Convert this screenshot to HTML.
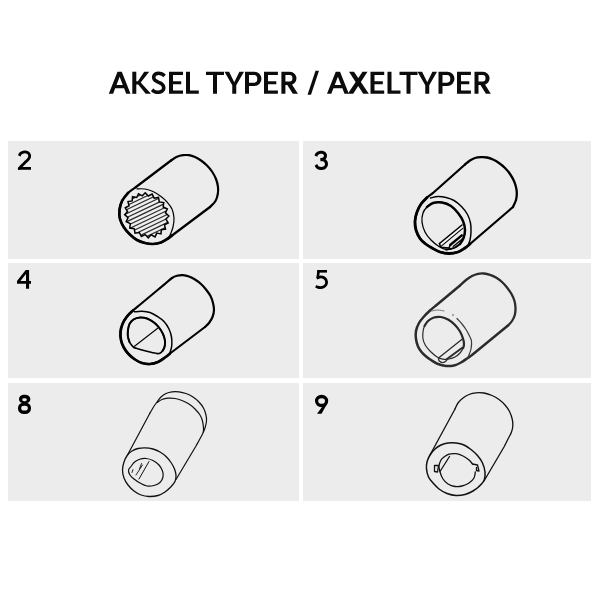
<!DOCTYPE html>
<html><head><meta charset="utf-8">
<style>
html,body{margin:0;padding:0;background:#fff;}
body{width:600px;height:600px;position:relative;overflow:hidden;font-family:"Liberation Sans",sans-serif;}
.c{position:absolute;background:#ececec;}
svg{position:absolute;left:0;top:0;}
</style></head><body>
<div class="c" style="left:8px;top:141px;width:291px;height:117.6px"></div>
<div class="c" style="left:303px;top:141px;width:288px;height:117.6px"></div>
<div class="c" style="left:8px;top:263px;width:291px;height:114.5px"></div>
<div class="c" style="left:303px;top:263px;width:288px;height:114.5px"></div>
<div class="c" style="left:8px;top:382.5px;width:291px;height:118.4px"></div>
<div class="c" style="left:303px;top:382.5px;width:288px;height:118.4px"></div>
<svg width="600" height="600" viewBox="0 0 600 600">
<g fill="#0c0c0c" fill-rule="evenodd"><path d="M108.8 93.8L117.5 71.7L121.8 71.7L130.5 93.8L126.2 93.8L124.1 88.2L115.2 88.2L113.1 93.8ZM116.5 85L122.8 85L119.65 76.8Z"/><path d="M132.3 93.8L136.3 93.8L136.3 71.7L132.3 71.7Z"/><path d="M135.8 84.6L135.8 81.2L137.9 81.2L144.2 71.7L149.2 71.7L140.7 82.5L151 93.8L145.7 93.8L138.2 84.6Z"/><path d="M169 93.8L183 93.8L183 90.5L173 90.5L173 84.25L181.2 84.25L181.2 81.2L173 81.2L173 75L183 75L183 71.7L169 71.7Z"/><path d="M186 93.8L198.8 93.8L198.8 90.5L190 90.5L190 71.7L186 71.7Z"/><path d="M206 71.7L224 71.7L224 75L217 75L217 93.8L213 93.8L213 75L206 75Z"/><path d="M224.5 71.7L229.1 71.7L234.25 82.2L239.4 71.7L244 71.7L236.25 85.2L236.25 93.8L232.25 93.8L232.25 85.2Z"/><path d="M245 71.7H254.35A7.15 7.15 0 0 1 254.35 86H249V93.8H245ZM249 75H254.05A3.25 3.85 0 0 1 254.05 82.7H249Z"/><path d="M264 93.8L277.9 93.8L277.9 90.5L268 90.5L268 84.25L276.3 84.25L276.3 81.2L268 81.2L268 75L277.9 75L277.9 71.7L264 71.7Z"/><path d="M281.4 71.7H289.9A6.6 6.6 0 0 1 289.9 84.9H285.4V93.8H281.4ZM285.4 75H289.6A2.8 3.3 0 0 1 289.6 81.6H285.4Z"/><path d="M287 84.6L292.8 93.8L298 93.8L291.6 84L289.9 82.9Z"/><path d="M315.5 70.8L319 70.8L311 94.8L307.5 94.8Z"/><path d="M327 93.8L335.74 71.7L340.06 71.7L348.8 93.8L344.48 93.8L342.37 88.2L333.43 88.2L331.32 93.8ZM334.74 85L341.06 85L337.9 76.8Z"/><path d="M349 71.7L354 71.7L368.8 93.8L363.2 93.8Z"/><path d="M362.5 71.7L367.5 71.7L353.2 93.8L347.8 93.8Z"/><path d="M370.5 93.8L384.2 93.8L384.2 90.5L374.5 90.5L374.5 84.25L382.8 84.25L382.8 81.2L374.5 81.2L374.5 75L384.2 75L384.2 71.7L370.5 71.7Z"/><path d="M387.5 93.8L400.5 93.8L400.5 90.5L391.5 90.5L391.5 71.7L387.5 71.7Z"/><path d="M399.5 71.7L417.5 71.7L417.5 75L410.5 75L410.5 93.8L406.5 93.8L406.5 75L399.5 75Z"/><path d="M417.5 71.7L422.1 71.7L427.25 82.2L432.4 71.7L437 71.7L429.25 85.2L429.25 93.8L425.25 93.8L425.25 85.2Z"/><path d="M438.5 71.7H447.35A7.15 7.15 0 0 1 447.35 86H442.5V93.8H438.5ZM442.5 75H447.05A3.25 3.85 0 0 1 447.05 82.7H442.5Z"/><path d="M457 93.8L470.9 93.8L470.9 90.5L461 90.5L461 84.25L469.3 84.25L469.3 81.2L461 81.2L461 75L470.9 75L470.9 71.7L457 71.7Z"/><path d="M474.5 71.7H483A6.6 6.6 0 0 1 483 84.9H478.5V93.8H474.5ZM478.5 75H482.7A2.8 3.3 0 0 1 482.7 81.6H478.5Z"/><path d="M480.1 84.6L485.9 93.8L490.8 93.8L484.7 84L483 82.9Z"/></g>
<path fill="none" stroke="#0c0c0c" stroke-width="3.6" stroke-linecap="butt" d="M164.5 76C164.28 75.78 163.75 75.08 163.2 74.7C162.65 74.32 161.98 73.93 161.2 73.7C160.42 73.47 159.4 73.27 158.5 73.3C157.6 73.33 156.55 73.48 155.8 73.9C155.05 74.32 154.32 75.05 154 75.8C153.68 76.55 153.65 77.58 153.9 78.4C154.15 79.22 154.65 80.02 155.5 80.7C156.35 81.38 157.92 81.9 159 82.5C160.08 83.1 161.23 83.58 162 84.3C162.77 85.02 163.37 85.95 163.6 86.8C163.83 87.65 163.75 88.63 163.4 89.4C163.05 90.17 162.32 90.92 161.5 91.4C160.68 91.88 159.48 92.22 158.5 92.3C157.52 92.38 156.43 92.13 155.6 91.9C154.77 91.67 154.07 91.27 153.5 90.9C152.93 90.53 152.42 89.9 152.2 89.7"/>
<clipPath id="c2"><rect x="17.75" y="150" width="13.4" height="19.75"/></clipPath>
<path clip-path="url(#c2)" fill="none" stroke="#000" stroke-width="2.8" stroke-linecap="butt" d="M19.25 155.9C19.48 155.48 19.91 154.03 20.6 153.4C21.29 152.78 22.43 152.36 23.4 152.15C24.37 151.94 25.48 151.91 26.4 152.15C27.32 152.39 28.36 152.94 28.9 153.6C29.44 154.26 29.68 155.23 29.65 156.1C29.62 156.97 29.31 157.88 28.7 158.8C28.09 159.72 27.03 160.57 26 161.6C24.97 162.63 23.6 163.87 22.5 165C21.4 166.13 19.92 167.83 19.4 168.4L18.3 169.6"/>
<path fill="#000" d="M18.6 167H31V169.75H17.9Z"/>
<path fill="none" stroke="#000" stroke-width="3.1" stroke-linecap="butt" d="M315.9 156.2C316.03 155.88 316.18 154.9 316.7 154.3C317.22 153.7 318.12 152.93 319 152.6C319.88 152.27 321.03 152.17 322 152.35C322.97 152.53 324.23 153.01 324.8 153.7C325.37 154.39 325.57 155.65 325.4 156.5C325.23 157.35 324.6 158.28 323.8 158.8C323 159.32 321.13 159.47 320.6 159.6"/>
<path fill="none" stroke="#000" stroke-width="3.1" stroke-linecap="butt" d="M320.6 159.6C321.12 159.65 322.8 159.5 323.7 159.9C324.6 160.3 325.55 161.15 326 162C326.45 162.85 326.63 164.07 326.4 165C326.17 165.93 325.47 167.03 324.6 167.6C323.73 168.17 322.35 168.47 321.2 168.45C320.05 168.43 318.58 168.11 317.7 167.5C316.82 166.89 316.2 165.25 315.9 164.8"/>
<path fill="#000" fill-rule="evenodd" d="M17 281L25.7 270H29.1V281H31V283.75H29.1V288.75H26V283.75H17ZM20.4 281H26V273.9Z"/>
<path fill="#000" d="M317.25 270H327V272.6H317.25Z"/>
<path fill="none" stroke="#000" stroke-width="2.6" d="M318.6 270.5L317.7 278.4"/>
<path fill="none" stroke="#000" stroke-width="2.8" stroke-linecap="butt" d="M316.8 278.3C317.25 278.1 318.55 277.28 319.5 277.1C320.45 276.92 321.55 276.92 322.5 277.2C323.45 277.48 324.52 278.07 325.2 278.8C325.88 279.53 326.42 280.63 326.55 281.6C326.68 282.57 326.48 283.73 326 284.6C325.52 285.47 324.62 286.3 323.7 286.8C322.78 287.3 321.52 287.55 320.5 287.6C319.48 287.65 318.38 287.35 317.6 287.1C316.82 286.85 316.1 286.27 315.8 286.1"/>
<path fill="#000" fill-rule="evenodd" d="M24 394.75H25.3A5 3.9 0 0 1 30.3 398.65V399.55A5 3.9 0 0 1 25.3 403.45H24A5 3.9 0 0 1 19 399.55V398.65A5 3.9 0 0 1 24 394.75ZM24.2 398.2H24.8A2 1.45 0 0 1 26.8 399.65V399.85A2 1.45 0 0 1 24.8 401.3H24.2A2 1.45 0 0 1 22.2 399.85V399.65A2 1.45 0 0 1 24.2 398.2Z"/>
<path fill="#000" fill-rule="evenodd" d="M23.9 402.4H25.1A5.9 5.3 0 0 1 31 407.7V408.7A5.9 5.3 0 0 1 25.1 414H23.9A5.9 5.3 0 0 1 18 408.7V407.7A5.9 5.3 0 0 1 23.9 402.4ZM24.1 405.7H24.9A2.9 2.3 0 0 1 27.8 408V408.2A2.9 2.3 0 0 1 24.9 410.5H24.1A2.9 2.3 0 0 1 21.2 408.2V408A2.9 2.3 0 0 1 24.1 405.7Z"/>
<path fill="#000" fill-rule="evenodd" d="M315 401A6.6 6.25 0 1 0 328.2 401A6.6 6.25 0 1 0 315 401ZM318.2 401A3.4 2.8 0 1 0 325 401A3.4 2.8 0 1 0 318.2 401Z"/>
<path fill="#000" d="M328.1 402L321.5 413.75H317L322.6 406.2Z"/>
<path d="M171 160.5L136 187C134.67 188 130.33 190.67 128 193C125.67 195.33 123.42 198.17 122 201C120.58 203.83 119.83 207 119.5 210C119.17 213 119.25 216.08 120 219C120.75 221.92 122.33 224.92 124 227.5C125.67 230.08 127.83 232.42 130 234.5C132.17 236.58 134.5 238.58 137 240C139.5 241.42 142.33 242.33 145 243C147.67 243.67 150.33 244.08 153 244C155.67 243.92 158.5 243.42 161 242.5C163.5 241.58 166.17 239.67 168 238.5C169.83 237.33 171.33 236 172 235.5L210 207" fill="none" stroke="#000" stroke-width="2.2" stroke-linecap="round" stroke-linejoin="round" />
<path d="M128 193C127 194.33 123.42 198.17 122 201C120.58 203.83 119.83 207 119.5 210C119.17 213 119.25 216.08 120 219C120.75 221.92 122.33 224.92 124 227.5C125.67 230.08 127.83 232.42 130 234.5C132.17 236.58 134.5 238.58 137 240C139.5 241.42 142.33 242.33 145 243C147.67 243.67 150.33 244.08 153 244C155.67 243.92 158.5 243.42 161 242.5C163.5 241.58 166.17 239.67 168 238.5C169.83 237.33 171.33 236 172 235.5" fill="none" stroke="#000" stroke-width="2.7" stroke-linecap="round" stroke-linejoin="round" />
<path d="M171 160.5C172 159.88 175 157.68 177 156.8C179 155.92 181 155.47 183 155.2C185 154.93 187 154.9 189 155.2C191 155.5 193 156.12 195 157C197 157.88 199 159.08 201 160.5C203 161.92 205.17 163.67 207 165.5C208.83 167.33 210.5 169.25 212 171.5C213.5 173.75 215 176.42 216 179C217 181.58 217.7 184.5 218 187C218.3 189.5 218.22 191.67 217.8 194C217.38 196.33 216.8 198.83 215.5 201C214.2 203.17 210.92 206 210 207" fill="none" stroke="#000" stroke-width="2.2" stroke-linecap="round" stroke-linejoin="round" />
<path d="M137 188.8C138.33 188.83 142.33 188.55 145 189C147.67 189.45 150.33 190.25 153 191.5C155.67 192.75 158.67 194.75 161 196.5C163.33 198.25 165.17 199.92 167 202C168.83 204.08 170.83 206.33 172 209C173.17 211.67 173.83 215 174 218C174.17 221 173.58 224.33 173 227C172.42 229.67 171.17 232.33 170.5 234C169.83 235.67 169.25 236.5 169 237" fill="none" stroke="#000" stroke-width="1.2" stroke-linecap="round" stroke-linejoin="round" />
<clipPath id="g2"><path d="M160.96 233.88L156.76 233.09L155.02 236.9L151.2 234.78L148.27 237.81L145.19 234.56L141.37 236.51L139.34 232.46L135 233.13L134.22 228.67L129.78 228.01L130.32 223.58L126.22 221.65L128.03 217.68L124.67 214.66L127.57 211.55L125.28 207.74L128.99 205.78L127.99 201.55L132.15 200.94L132.54 196.72L136.74 197.51L138.48 193.7L142.3 195.82L145.23 192.79L148.31 196.04L152.13 194.09L154.16 198.14L158.5 197.47L159.28 201.93L163.72 202.59L163.18 207.02L167.28 208.95L165.47 212.92L168.83 215.94L165.93 219.05L168.22 222.86L164.51 224.82L165.51 229.05L161.35 229.66Z"/></clipPath>
<path d="M160.96 233.88L156.76 233.09L155.02 236.9L151.2 234.78L148.27 237.81L145.19 234.56L141.37 236.51L139.34 232.46L135 233.13L134.22 228.67L129.78 228.01L130.32 223.58L126.22 221.65L128.03 217.68L124.67 214.66L127.57 211.55L125.28 207.74L128.99 205.78L127.99 201.55L132.15 200.94L132.54 196.72L136.74 197.51L138.48 193.7L142.3 195.82L145.23 192.79L148.31 196.04L152.13 194.09L154.16 198.14L158.5 197.47L159.28 201.93L163.72 202.59L163.18 207.02L167.28 208.95L165.47 212.92L168.83 215.94L165.93 219.05L168.22 222.86L164.51 224.82L165.51 229.05L161.35 229.66Z" fill="#efefef" stroke="none"/>
<g clip-path="url(#g2)" stroke="#2a2a2a" stroke-width="1.2"><line x1="109.02" y1="205.88" x2="163.17" y2="180.05"/><line x1="110.59" y1="209.17" x2="164.74" y2="183.34"/><line x1="112.16" y1="212.47" x2="166.32" y2="186.63"/><line x1="113.73" y1="215.76" x2="167.89" y2="189.93"/><line x1="115.3" y1="219.05" x2="169.46" y2="193.22"/><line x1="116.87" y1="222.35" x2="171.03" y2="196.52"/><line x1="118.45" y1="225.64" x2="172.6" y2="199.81"/><line x1="120.02" y1="228.94" x2="174.17" y2="203.11"/><line x1="121.59" y1="232.23" x2="175.74" y2="206.4"/><line x1="123.16" y1="235.53" x2="177.31" y2="209.7"/><line x1="124.73" y1="238.82" x2="178.89" y2="212.99"/><line x1="126.3" y1="242.12" x2="180.46" y2="216.28"/><line x1="127.87" y1="245.41" x2="182.03" y2="219.58"/><line x1="129.45" y1="248.7" x2="183.6" y2="222.87"/><line x1="131.02" y1="252" x2="185.17" y2="226.17"/></g>
<path d="M160.96 233.88L156.76 233.09L155.02 236.9L151.2 234.78L148.27 237.81L145.19 234.56L141.37 236.51L139.34 232.46L135 233.13L134.22 228.67L129.78 228.01L130.32 223.58L126.22 221.65L128.03 217.68L124.67 214.66L127.57 211.55L125.28 207.74L128.99 205.78L127.99 201.55L132.15 200.94L132.54 196.72L136.74 197.51L138.48 193.7L142.3 195.82L145.23 192.79L148.31 196.04L152.13 194.09L154.16 198.14L158.5 197.47L159.28 201.93L163.72 202.59L163.18 207.02L167.28 208.95L165.47 212.92L168.83 215.94L165.93 219.05L168.22 222.86L164.51 224.82L165.51 229.05L161.35 229.66Z" fill="none" stroke="#000" stroke-width="1.5" stroke-linejoin="miter"/>
<path d="M465 164.5L433 193C432 193.75 429 195.67 427 197.5C425 199.33 422.67 201.58 421 204C419.33 206.42 418 209.17 417 212C416 214.83 415.17 218 415 221C414.83 224 415.17 227.08 416 230C416.83 232.92 418.5 236.25 420 238.5C421.5 240.75 423 241.92 425 243.5C427 245.08 429.5 246.58 432 248C434.5 249.42 437.17 251.08 440 252C442.83 252.92 446 253.5 449 253.5C452 253.5 455.33 252.92 458 252C460.67 251.08 463 249.33 465 248C467 246.67 469.17 244.67 470 244L513 207" fill="none" stroke="#000" stroke-width="2.2" stroke-linecap="round" stroke-linejoin="round" />
<path d="M427 197.5C426 198.58 422.67 201.58 421 204C419.33 206.42 418 209.17 417 212C416 214.83 415.17 218 415 221C414.83 224 415.17 227.08 416 230C416.83 232.92 418.5 236.25 420 238.5C421.5 240.75 423 241.92 425 243.5C427 245.08 429.5 246.58 432 248C434.5 249.42 437.17 251.08 440 252C442.83 252.92 446 253.5 449 253.5C452 253.5 455.33 252.92 458 252C460.67 251.08 463 249.33 465 248C467 246.67 469.17 244.67 470 244" fill="none" stroke="#000" stroke-width="2.8" stroke-linecap="round" stroke-linejoin="round" />
<path d="M465 164.5C465.83 163.83 468.33 161.58 470 160.5C471.67 159.42 473.17 158.55 475 158C476.83 157.45 479 157.28 481 157.2C483 157.12 485 157.12 487 157.5C489 157.88 491 158.58 493 159.5C495 160.42 497 161.58 499 163C501 164.42 503.17 166.17 505 168C506.83 169.83 508.5 171.83 510 174C511.5 176.17 512.97 178.67 514 181C515.03 183.33 515.73 185.83 516.2 188C516.67 190.17 516.83 192 516.8 194C516.77 196 516.63 197.83 516 200C515.37 202.17 513.5 205.83 513 207" fill="none" stroke="#000" stroke-width="2.3" stroke-linecap="round" stroke-linejoin="round" />
<path d="M430.5 198C431.75 197.75 435.42 196.58 438 196.5C440.58 196.42 443.33 196.83 446 197.5C448.67 198.17 451.42 199 454 200.5C456.58 202 459.25 204.17 461.5 206.5C463.75 208.83 466 211.75 467.5 214.5C469 217.25 469.92 220.08 470.5 223C471.08 225.92 471.08 229.17 471 232C470.92 234.83 470.5 237.75 470 240C469.5 242.25 468.33 244.58 468 245.5" fill="none" stroke="#000" stroke-width="1.45" stroke-linecap="round" stroke-linejoin="round" />
<path d="M422 222C421.67 218.83 422.17 215.5 423 213C423.83 210.5 425.33 208.67 427 207C428.67 205.33 430.5 203.75 433 203C435.5 202.25 439 202 442 202.5C445 203 448.33 204.25 451 206C453.67 207.75 456 210.5 458 213C460 215.5 461.83 218.17 463 221C464.17 223.83 464.92 227.17 465 230C465.08 232.83 464.33 235.67 463.5 238C462.67 240.33 461.58 242.33 460 244C458.42 245.67 456.33 247.08 454 248C451.67 248.92 448.5 249.75 446 249.5C443.5 249.25 441.5 248.08 439 246.5C436.5 244.92 433.33 242.42 431 240C428.67 237.58 426.5 235 425 232C423.5 229 422.33 225.17 422 222Z" fill="none" stroke="#000" stroke-width="1.3" stroke-linecap="round" stroke-linejoin="round" />
<path d="M427 207C428 206.33 430.5 203.75 433 203C435.5 202.25 439 202 442 202.5C445 203 448.33 204.25 451 206C453.67 207.75 456 210.5 458 213C460 215.5 461.83 218.17 463 221C464.17 223.83 464.92 227.17 465 230C465.08 232.83 464.33 235.67 463.5 238C462.67 240.33 460.58 243 460 244" fill="none" stroke="#000" stroke-width="2.5" stroke-linecap="round" stroke-linejoin="round" />
<path d="M460 244C459 244.67 456.33 247.08 454 248C451.67 248.92 447.33 249.25 446 249.5" fill="none" stroke="#000" stroke-width="1.8" stroke-linecap="round" stroke-linejoin="round" />
<path d="M439.8 243.8L462.2 225.3L462.8 228L441 246.2Z" fill="#f6f6f6"/>
<path d="M439.5 243.5L462 225" fill="none" stroke="#000" stroke-width="1.6" stroke-linecap="round" stroke-linejoin="round" />
<path d="M441 246.4L462.7 228.4" fill="none" stroke="#000" stroke-width="1.1" stroke-linecap="round" stroke-linejoin="round" />
<path d="M439.5 243.5L440.6 247.2L449 248.1L450.2 245" fill="none" stroke="#000" stroke-width="1.5" stroke-linecap="round" stroke-linejoin="round" />
<path d="M450.2 245L461.8 235.3" fill="none" stroke="#000" stroke-width="2.3" stroke-linecap="round" stroke-linejoin="round" />
<path d="M453.2 246.6L462 239.2" fill="none" stroke="#000" stroke-width="1.3" stroke-linecap="round" stroke-linejoin="round" />
<path d="M160 288L139 305.5C138 306.33 135 308.67 133 310.5C131 312.33 128.75 314.25 127 316.5C125.25 318.75 123.58 321.42 122.5 324C121.42 326.58 120.75 329.33 120.5 332C120.25 334.67 120.5 337.5 121 340C121.5 342.5 122.25 344.67 123.5 347C124.75 349.33 126.58 351.92 128.5 354C130.42 356.08 132.75 358 135 359.5C137.25 361 139.5 362.25 142 363C144.5 363.75 147.33 364.17 150 364C152.67 363.83 155.5 363.08 158 362C160.5 360.92 163 358.92 165 357.5C167 356.08 169.17 354.17 170 353.5L205 327" fill="none" stroke="#000" stroke-width="2.1" stroke-linecap="round" stroke-linejoin="round" />
<path d="M133 310.5C132 311.5 128.75 314.25 127 316.5C125.25 318.75 123.58 321.42 122.5 324C121.42 326.58 120.75 329.33 120.5 332C120.25 334.67 120.5 337.5 121 340C121.5 342.5 122.25 344.67 123.5 347C124.75 349.33 126.58 351.92 128.5 354C130.42 356.08 132.75 358 135 359.5C137.25 361 139.5 362.25 142 363C144.5 363.75 147.33 364.17 150 364C152.67 363.83 155.5 363.08 158 362C160.5 360.92 163 358.92 165 357.5C167 356.08 169.17 354.17 170 353.5" fill="none" stroke="#000" stroke-width="2.7" stroke-linecap="round" stroke-linejoin="round" />
<path d="M160 288C161 287.17 164 284.67 166 283C168 281.33 170.17 279.2 172 278C173.83 276.8 175.17 276.27 177 275.8C178.83 275.33 181 275.08 183 275.2C185 275.32 187 275.78 189 276.5C191 277.22 193 278.25 195 279.5C197 280.75 199.17 282.33 201 284C202.83 285.67 204.42 287.5 206 289.5C207.58 291.5 209.33 293.75 210.5 296C211.67 298.25 212.42 300.67 213 303C213.58 305.33 214.08 307.67 214 310C213.92 312.33 213.33 314.83 212.5 317C211.67 319.17 210.25 321.33 209 323C207.75 324.67 205.67 326.33 205 327" fill="none" stroke="#000" stroke-width="2.2" stroke-linecap="round" stroke-linejoin="round" />
<path d="M134.5 311.8C135.75 311.7 139.42 311.08 142 311.2C144.58 311.32 147.42 311.62 150 312.5C152.58 313.38 155.17 315 157.5 316.5C159.83 318 162.08 319.42 164 321.5C165.92 323.58 167.75 326.42 169 329C170.25 331.58 171.03 334.33 171.5 337C171.97 339.67 171.92 342.83 171.8 345C171.68 347.17 171.18 348.58 170.8 350C170.42 351.42 169.72 352.92 169.5 353.5" fill="none" stroke="#000" stroke-width="1.5" stroke-linecap="round" stroke-linejoin="round" />
<path d="M133.6 347.3C132.8 346.7 131.88 345.48 131.2 344.6C130.52 343.72 130.07 343.43 129.5 342C128.93 340.57 128.05 338 127.8 336C127.55 334 127.72 332 128 330C128.28 328 128.58 325.75 129.5 324C130.42 322.25 131.75 320.58 133.5 319.5C135.25 318.42 137.75 317.67 140 317.5C142.25 317.33 144.67 317.67 147 318.5C149.33 319.33 152 321 154 322.5C156 324 157.5 325.58 159 327.5C160.5 329.42 162 331.75 163 334C164 336.25 164.75 338.83 165 341C165.25 343.17 164.9 345.37 164.5 347C164.1 348.63 163.3 349.8 162.6 350.8C161.9 351.8 161.15 352.53 160.3 353C159.45 353.47 158.88 353.68 157.5 353.6C156.12 353.52 154.58 353.1 152 352.5C149.42 351.9 144.67 350.72 142 350C139.33 349.28 137.4 348.65 136 348.2C134.6 347.75 134.4 347.9 133.6 347.3Z" fill="none" stroke="#000" stroke-width="1.6" stroke-linecap="round" stroke-linejoin="round" />
<path d="M129.5 342C129.22 341 128.05 338 127.8 336C127.55 334 127.72 332 128 330C128.28 328 128.58 325.75 129.5 324C130.42 322.25 131.75 320.58 133.5 319.5C135.25 318.42 137.75 317.67 140 317.5C142.25 317.33 144.67 317.67 147 318.5C149.33 319.33 152 321 154 322.5C156 324 157.5 325.58 159 327.5C160.5 329.42 162 331.75 163 334C164 336.25 164.75 338.83 165 341C165.25 343.17 164.9 345.37 164.5 347C164.1 348.63 162.92 350.17 162.6 350.8" fill="none" stroke="#000" stroke-width="2" stroke-linecap="round" stroke-linejoin="round" />
<path d="M134.2 346.5L158 328" fill="none" stroke="#000" stroke-width="1.1" stroke-linecap="round" stroke-linejoin="round" />
<path d="M460 285.5L436 305.5C435 306.33 432 308.67 430 310.5C428 312.33 425.83 314.42 424 316.5C422.17 318.58 420.33 320.58 419 323C417.67 325.42 416.5 328.33 416 331C415.5 333.67 415.67 336.42 416 339C416.33 341.58 417.08 344.33 418 346.5C418.92 348.67 420.25 350.42 421.5 352C422.75 353.58 423.92 354.67 425.5 356C427.08 357.33 428.92 358.67 431 360C433.08 361.33 435.5 363 438 364C440.5 365 443.33 365.75 446 366C448.67 366.25 451.5 366.08 454 365.5C456.5 364.92 458.83 363.67 461 362.5C463.17 361.33 465.17 359.75 467 358.5C468.83 357.25 471.17 355.58 472 355L508 325.5" fill="none" stroke="#2b2b2b" stroke-width="2.5" stroke-linecap="round" stroke-linejoin="round" />
<path d="M460 285.5C461 284.58 464 281.58 466 280C468 278.42 470 277.03 472 276C474 274.97 476 274.22 478 273.8C480 273.38 482 273.33 484 273.5C486 273.67 488 274.13 490 274.8C492 275.47 494 276.3 496 277.5C498 278.7 500.17 280.33 502 282C503.83 283.67 505.42 285.5 507 287.5C508.58 289.5 510.25 291.75 511.5 294C512.75 296.25 513.83 298.67 514.5 301C515.17 303.33 515.45 305.67 515.5 308C515.55 310.33 515.38 312.83 514.8 315C514.22 317.17 513.13 319.25 512 321C510.87 322.75 508.67 324.75 508 325.5" fill="none" stroke="#2b2b2b" stroke-width="2.3" stroke-linecap="round" stroke-linejoin="round" />
<path d="M431.5 311C432.58 310.83 435.92 310 438 310C440.08 310 443 310.83 444 311" fill="none" stroke="#666" stroke-width="0.9" stroke-linecap="round" stroke-linejoin="round" />
<circle cx="453" cy="315" r="0.8" fill="#444"/>
<path d="M457 318.5C457.83 319.42 460.5 322.17 462 324C463.5 325.83 464.83 327.67 466 329.5C467.17 331.33 468.08 333.08 469 335C469.92 336.92 471.17 338.67 471.5 341C471.83 343.33 471.42 346.67 471 349C470.58 351.33 469.58 353.5 469 355C468.42 356.5 467.75 357.5 467.5 358" fill="none" stroke="#3a3a3a" stroke-width="1.2" stroke-linecap="round" stroke-linejoin="round" />
<path d="M423 332C423.25 329.83 423.67 327.83 424.5 326C425.33 324.17 426.42 322.42 428 321C429.58 319.58 431.83 318.17 434 317.5C436.17 316.83 438.58 316.62 441 317C443.42 317.38 446.17 318.47 448.5 319.8C450.83 321.13 453.08 323.05 455 325C456.92 326.95 458.67 329.25 460 331.5C461.33 333.75 462.33 336.42 463 338.5C463.67 340.58 463.97 342.42 464 344C464.03 345.58 463.87 346.5 463.2 348C462.53 349.5 461.37 351.5 460 353C458.63 354.5 456.83 356 455 357C453.17 358 450.83 358.62 449 359C447.17 359.38 445.83 359.55 444 359.3C442.17 359.05 440.17 358.72 438 357.5C435.83 356.28 433.08 354 431 352C428.92 350 426.83 347.67 425.5 345.5C424.17 343.33 423.42 341.25 423 339C422.58 336.75 422.75 334.17 423 332Z" fill="none" stroke="#2b2b2b" stroke-width="1.2" stroke-linecap="round" stroke-linejoin="round" />
<path d="M424.5 326C425.08 325.17 426.42 322.42 428 321C429.58 319.58 431.83 318.17 434 317.5C436.17 316.83 438.58 316.62 441 317C443.42 317.38 446.17 318.47 448.5 319.8C450.83 321.13 453.08 323.05 455 325C456.92 326.95 458.67 329.25 460 331.5C461.33 333.75 462.33 336.42 463 338.5C463.67 340.58 463.97 342.42 464 344C464.03 345.58 463.33 347.33 463.2 348" fill="none" stroke="#2b2b2b" stroke-width="2.2" stroke-linecap="round" stroke-linejoin="round" />
<path d="M438.5 358L463 338.5" fill="none" stroke="#2b2b2b" stroke-width="1.3" stroke-linecap="round" stroke-linejoin="round" />
<path d="M447 359L462.3 347.8" fill="none" stroke="#2b2b2b" stroke-width="2" stroke-linecap="round" stroke-linejoin="round" />
<path d="M438.5 358C438.63 358.5 438.58 360.23 439.3 361C440.02 361.77 441.63 362.63 442.8 362.6C443.97 362.57 445.6 361.4 446.3 360.8C447 360.2 446.88 359.3 447 359" fill="none" stroke="#2b2b2b" stroke-width="1.3" stroke-linecap="round" stroke-linejoin="round" />
<path d="M122.5 470C122.5 467.33 123.17 464.5 124 462C124.83 459.5 126.17 456.83 127.5 455C128.83 453.17 130.25 452.08 132 451C133.75 449.92 135.83 449.03 138 448.5C140.17 447.97 142.5 447.72 145 447.8C147.5 447.88 150.5 448.3 153 449C155.5 449.7 157.83 450.75 160 452C162.17 453.25 164.17 454.75 166 456.5C167.83 458.25 169.58 460.42 171 462.5C172.42 464.58 173.67 466.92 174.5 469C175.33 471.08 175.88 473 176 475C176.12 477 176.03 479.03 175.2 481C174.37 482.97 172.7 484.97 171 486.8C169.3 488.63 167.17 490.55 165 492C162.83 493.45 160.67 494.75 158 495.5C155.33 496.25 151.83 496.58 149 496.5C146.17 496.42 143.5 495.92 141 495C138.5 494.08 136.17 492.67 134 491C131.83 489.33 129.67 487.17 128 485C126.33 482.83 124.92 480.5 124 478C123.08 475.5 122.5 472.67 122.5 470Z" fill="none" stroke="#111" stroke-width="1.3" stroke-linecap="round" stroke-linejoin="round" />
<path d="M127.5 455L150 413" fill="none" stroke="#111" stroke-width="1.2" stroke-linecap="round" stroke-linejoin="round" />
<path d="M150 413C150.58 412 152.33 408.83 153.5 407C154.67 405.17 155.75 403.67 157 402C158.25 400.33 159.5 398.42 161 397C162.5 395.58 164.17 394.37 166 393.5C167.83 392.63 169.83 392.08 172 391.8C174.17 391.52 176.67 391.52 179 391.8C181.33 392.08 183.67 392.63 186 393.5C188.33 394.37 190.83 395.58 193 397C195.17 398.42 197.25 400.17 199 402C200.75 403.83 202.33 405.83 203.5 408C204.67 410.17 205.5 412.83 206 415C206.5 417.17 206.67 418.83 206.5 421C206.33 423.17 205.75 425.67 205 428C204.25 430.33 203.5 432 202 435C200.5 438 197 444.17 196 446L176 479.5" fill="none" stroke="#111" stroke-width="1.2" stroke-linecap="round" stroke-linejoin="round" />
<path d="M157 402.5C157.83 402 160.17 400.22 162 399.5C163.83 398.78 165.83 398.37 168 398.2C170.17 398.03 172.67 398.12 175 398.5C177.33 398.88 179.67 399.58 182 400.5C184.33 401.42 186.83 402.58 189 404C191.17 405.42 193.17 407.17 195 409C196.83 410.83 198.75 413 200 415C201.25 417 201.92 418.83 202.5 421C203.08 423.17 203.37 426.17 203.5 428C203.63 429.83 203.33 431.33 203.3 432" fill="none" stroke="#111" stroke-width="1.2" stroke-linecap="round" stroke-linejoin="round" />
<path d="M128.5 470C128.67 468.58 130.08 467.75 131 466.5C131.92 465.25 132.67 463.67 134 462.5C135.33 461.33 137 460.17 139 459.5C141 458.83 143.67 458.33 146 458.5C148.33 458.67 150.83 459.42 153 460.5C155.17 461.58 157.42 463.25 159 465C160.58 466.75 161.83 469 162.5 471C163.17 473 163.42 475.08 163 477C162.58 478.92 161.5 481.08 160 482.5C158.5 483.92 156.17 484.92 154 485.5C151.83 486.08 149.33 486.42 147 486C144.67 485.58 142.17 484.17 140 483C137.83 481.83 135.67 480.33 134 479C132.33 477.67 130.92 476.5 130 475C129.08 473.5 128.33 471.42 128.5 470Z" fill="none" stroke="#111" stroke-width="1.2" stroke-linecap="round" stroke-linejoin="round" />
<path d="M149 461.5L139 479" fill="none" stroke="#111" stroke-width="1" stroke-linecap="round" stroke-linejoin="round" />
<path d="M142.5 465L136 475" fill="none" stroke="#111" stroke-width="0.9" stroke-linecap="round" stroke-linejoin="round" />
<path d="M141.5 463.5L139.5 469" fill="none" stroke="#111" stroke-width="0.9" stroke-linecap="round" stroke-linejoin="round" />
<path d="M133 469.5L132 472.5" fill="none" stroke="#111" stroke-width="0.9" stroke-linecap="round" stroke-linejoin="round" />
<path d="M426.5 469C426.25 466.5 426.42 464.33 427 462C427.58 459.67 428.67 457.17 430 455C431.33 452.83 433.17 450.67 435 449C436.83 447.33 438.83 446 441 445C443.17 444 445.5 443.33 448 443C450.5 442.67 453.33 442.67 456 443C458.67 443.33 461.5 443.92 464 445C466.5 446.08 468.75 447.75 471 449.5C473.25 451.25 475.58 453.25 477.5 455.5C479.42 457.75 481.25 460.25 482.5 463C483.75 465.75 484.72 469.17 485 472C485.28 474.83 485.2 477.58 484.2 480C483.2 482.42 480.87 484.67 479 486.5C477.13 488.33 475.33 489.67 473 491C470.67 492.33 467.83 493.75 465 494.5C462.17 495.25 459 495.67 456 495.5C453 495.33 449.83 494.58 447 493.5C444.17 492.42 441.33 490.75 439 489C436.67 487.25 434.75 485 433 483C431.25 481 429.58 479.33 428.5 477C427.42 474.67 426.75 471.5 426.5 469Z" fill="none" stroke="#111" stroke-width="1.5" stroke-linecap="round" stroke-linejoin="round" />
<path d="M430 455L455 409" fill="none" stroke="#111" stroke-width="1.3" stroke-linecap="round" stroke-linejoin="round" />
<path d="M455 409C455.5 408 456.67 404.83 458 403C459.33 401.17 461.17 399.42 463 398C464.83 396.58 466.83 395.37 469 394.5C471.17 393.63 473.5 393.05 476 392.8C478.5 392.55 481.33 392.55 484 393C486.67 393.45 489.5 394.42 492 395.5C494.5 396.58 496.83 397.92 499 399.5C501.17 401.08 503.25 403 505 405C506.75 407 508.3 409.17 509.5 411.5C510.7 413.83 511.65 416.58 512.2 419C512.75 421.42 512.92 423.83 512.8 426C512.68 428.17 512.3 429.83 511.5 432C510.7 434.17 509.25 436.5 508 439C506.75 441.5 504.67 445.67 504 447L484 481" fill="none" stroke="#111" stroke-width="1.3" stroke-linecap="round" stroke-linejoin="round" />
<path d="M472.5 464C471.92 463.33 470.58 461.33 469 460C467.42 458.67 465.17 457.05 463 456C460.83 454.95 458.33 454 456 453.7C453.67 453.4 451 453.65 449 454.2C447 454.75 445.33 456.03 444 457C442.67 457.97 441.83 458.5 441 460C440.17 461.5 439.17 464 439 466C438.83 468 439.33 469.83 440 472C440.67 474.17 441.67 477 443 479C444.33 481 446 482.75 448 484C450 485.25 452.67 486.17 455 486.5C457.33 486.83 459.67 486.58 462 486C464.33 485.42 467 484.33 469 483C471 481.67 472.95 479.83 474 478C475.05 476.17 475.08 473 475.3 472" fill="none" stroke="#111" stroke-width="1.3" stroke-linecap="round" stroke-linejoin="round" />
<path d="M472.5 464L477.5 465L479 471L476.5 470.5L476.5 467.5" fill="none" stroke="#111" stroke-width="1.3" stroke-linecap="round" stroke-linejoin="round" />
<path d="M438.5 465.5L434.5 465.5L434.5 471.5L437.5 472L438.5 465.5" fill="none" stroke="#111" stroke-width="1.3" stroke-linecap="round" stroke-linejoin="round" />
<path d="M449.5 456.5L440 471.5" fill="none" stroke="#111" stroke-width="1.3" stroke-linecap="round" stroke-linejoin="round" />
</svg>
</body></html>
